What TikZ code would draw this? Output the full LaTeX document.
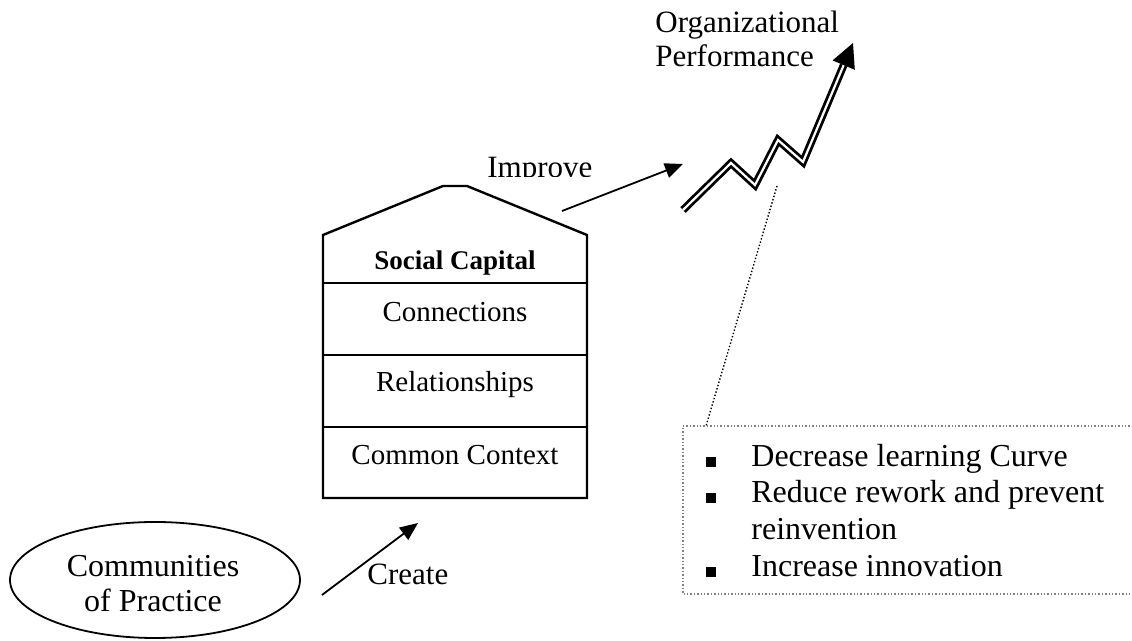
\documentclass[tikz,border=0pt]{standalone}
\usepackage{fontspec}
\setmainfont{Liberation Serif}
\usetikzlibrary{arrows.meta,shapes.geometric}
\newcommand\myfontA{\fontsize{15.5}{18}\selectfont}
\newcommand\myfontB{\fontsize{16}{18}\selectfont}
\newcommand\myfontC{\fontsize{14.5}{17}\selectfont}
\newcommand\myfontD{\fontsize{13.5}{16}\selectfont\bfseries}
\begin{document}
\begin{tikzpicture}[x=0.5pt,y=-0.5pt,
  lbl/.style={inner sep=0pt,anchor=base west},
  clbl/.style={inner sep=0pt,anchor=base},
  housel/.style={line width=1.2pt},
  arr/.style={line width=0.9pt,-{Triangle[length=9pt,width=7.5pt]}},
  bul/.style={fill=black,minimum size=5pt,inner sep=0pt,anchor=south west},
  dotbox/.style={densely dotted,draw=gray,line width=0.7pt},
  perf/.style={double=white,line width=1.4pt,double distance=1.1pt,line join=miter}
]
\useasboundingbox (0,0) rectangle (1132,641);

% house
\coordinate (hl) at (323,235);
\coordinate (hr) at (587,235);
\draw[housel] (323,498) -- (hl) -- (443,186) -- (467,186) -- (hr) -- (587,498) -- cycle;
\draw[housel] (323,283) -- (587,283);
\draw[housel] (323,355) -- (587,355);
\draw[housel] (323,427) -- (587,427);
\node[clbl,font=\myfontD] (sc) at (455,270) {Social Capital};
\node[clbl,font=\myfontC] (conn) at (455,322) {Connections};
\node[clbl,font=\myfontC] (rel) at (455,392) {Relationships};
\node[clbl,font=\myfontC] (cc) at (455,465) {Common Context};

% communities
\node[draw,ellipse,line width=0.9pt,minimum width=145pt,minimum height=58pt] (cop) at (155,580) {};
\node[clbl,font=\myfontB] (cop1) at (153,577) {Communities};
\node[clbl,font=\myfontB] (cop2) at (153,612) {of Practice};

% create arrow
\coordinate (crS) at (322,595);
\coordinate (crE) at (418,523);
\draw[arr] (crS) -- (crE);
\node[lbl,font=\myfontA] (create) at (367,585) {Create};

% improve arrow
\coordinate (imS) at (562,211);
\coordinate (imE) at (683,164);
\draw[arr] (imS) -- (imE);
\begin{scope}
\clip (480,140) rectangle (600,177);
\node[lbl,font=\myfontA] (improve) at (487,178) {Improve};
\end{scope}

% performance zigzag
\coordinate (z0) at (683,210);
\coordinate (z1) at (731,163);
\coordinate (z2) at (755,185);
\coordinate (z3) at (778,140);
\coordinate (z4) at (803,162);
\coordinate (zm) at (843.7,65.1);
\coordinate (zt) at (853,43);
\draw[perf] (z0) -- (z1) -- (z2) -- (z3) -- (z4) -- (zm);
\fill (zt) -- (832.6,60.4) -- (854.8,69.8) -- cycle;
\node[lbl,font=\myfontA] (org1) at (655,33) {Organizational};
\node[lbl,font=\myfontA] (org2) at (655,67) {Performance};

% bullet box
\draw[dotbox] (1140,426) -- (683,426) -- (683,594) -- (1140,594);
\coordinate (boxtop) at (706,426);
\draw[densely dotted,line width=0.7pt] (777,186) -- (boxtop);
\node[bul] (b1) at (706,467) {};
\node[bul] (b2) at (706,503) {};
\node[bul] (b3) at (706,577) {};
\node[lbl,font=\myfontB] (t1) at (751,467) {Decrease learning Curve};
\node[lbl,font=\myfontB] (t2) at (751,503) {Reduce rework and prevent};
\node[lbl,font=\myfontB] (t2b) at (751,540) {reinvention};
\node[lbl,font=\myfontB] (t3) at (751,577) {Increase innovation};
\end{tikzpicture}
\end{document}
